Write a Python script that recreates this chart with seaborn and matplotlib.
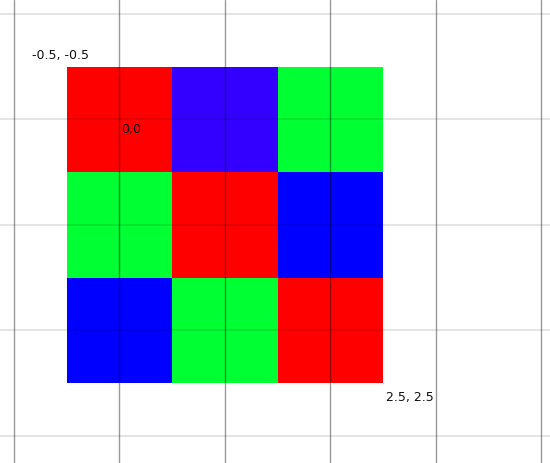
import numpy as np
import pandas as pd
import matplotlib
matplotlib.use("Agg")
import matplotlib.pyplot as plt
from matplotlib.colors import ListedColormap
import seaborn as sns

# Cell colour indices (rows top to bottom)
cell_codes = [[0, 1, 2],
              [2, 0, 3],
              [3, 2, 0]]
cell_colors = ["#ff0000", "#3300ff", "#00ff33", "#0000ff"]

# Corner / origin labels and where they sit (data coords, pixel centres at integers)
label_texts = ["-0.5, -0.5", "0,0", "2.5, 2.5"]
label_x = [-0.555, 0.02, 2.53]
label_y = [-0.575, 0.125, 2.67]
label_ha = ["center", "left", "left"]

grid_x = [-1, 0, 1, 2, 3, 4]
grid_y = [-1, 0, 1, 2, 3]
xlim = (-1.133, 4.085)
ylim = (3.26, -1.133)

sns.set_theme(style="white")
plt.rcParams['font.family'] = ['DejaVu Sans']

fig = plt.figure(figsize=(5.5, 4.63), dpi=100)
ax = fig.add_axes([0, 0, 1, 1])

off = 0.5  # heatmap cells span [0, n]; image pixels span [-0.5, n-0.5]
data = pd.DataFrame(np.array(cell_codes))
sns.heatmap(data, ax=ax, cmap=ListedColormap(cell_colors), vmin=-0.5, vmax=3.5,
            cbar=False, linewidths=0, square=True)

ax.set_xlim(xlim[0] + off, xlim[1] + off)
ax.set_ylim(ylim[0] + off, ylim[1] + off)
ax.set_aspect("equal")

for gx in grid_x:
    ax.axvline(gx + off, color="black", alpha=0.4, lw=1.0, zorder=5)
for gy in grid_y:
    ax.axhline(gy + off, color="black", alpha=0.12, lw=1.2, zorder=4)

for t, x, y, ha in zip(label_texts, label_x, label_y, label_ha):
    ax.text(x + off, y + off, t, ha=ha, va="baseline", fontsize=9,
            color="#111111", zorder=6)

ax.set_xticks([])
ax.set_yticks([])
ax.set_xlabel("")
ax.set_ylabel("")
for s in ax.spines.values():
    s.set_visible(False)

fig.savefig("out.png", dpi=100)
